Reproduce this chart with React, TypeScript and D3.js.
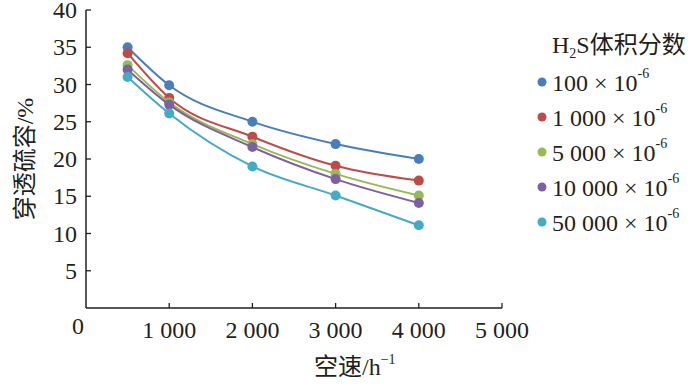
import * as d3 from "d3";

const speeds = [500, 1000, 2000, 3000, 4000];
const seriesNames = ["100", "1 000", "5 000", "10 000", "50 000"];
const seriesColors = ["#4a7ebb", "#be4b48", "#98b954", "#7d60a0", "#46aac5"];
const s100 = [35, 29.9, 25, 22, 20];
const s1000 = [34.2, 28.2, 23, 19.1, 17.1];
const s5000 = [32.6, 27.6, 22, 18, 15.1];
const s10000 = [32, 27.3, 21.6, 17.3, 14.1];
const s50000 = [31, 26.1, 19, 15.1, 11.1];
const allSeries = [s100, s1000, s5000, s10000, s50000];
const xTicks = [1000, 2000, 3000, 4000, 5000];
const yTicks = [5, 10, 15, 20, 25, 30, 35, 40];

const fmt = (v: number) => (v >= 1000 ? `${Math.floor(v / 1000)} ${String(v % 1000).padStart(3, "0")}` : String(v));

export default function App() {
  const width = 700;
  const height = 387;
  const pad = { left: 86, top: 10, right: 198, bottom: 79 };

  const x = d3.scaleLinear().domain([0, 5000]).range([pad.left, width - pad.right]);
  const y = d3.scaleLinear().domain([0, 40]).range([height - pad.bottom, pad.top]);

  const line = d3
    .line<number>()
    .x((_, i) => x(speeds[i]))
    .y((d) => y(d))
    .curve(d3.curveMonotoneX);

  const font = "'Liberation Serif', 'Times New Roman', 'Noto Sans CJK SC', serif";
  const fs = 24;
  const sup = 14;
  const axisColor = "#231f20";

  return (
    <svg
      width={width}
      height={height}
      style={{ position: "absolute", left: 0, top: 0, background: "#fff" }}
      fontFamily={font}
    >
      {/* axes */}
      <line x1={x(0)} y1={y(0)} x2={x(5000)} y2={y(0)} stroke={axisColor} strokeWidth={1.5} />
      <line x1={x(0)} y1={y(0)} x2={x(0)} y2={y(40)} stroke={axisColor} strokeWidth={1.5} />

      {xTicks.map((t) => (
        <g key={t}>
          <line x1={x(t)} y1={y(0)} x2={x(t)} y2={y(0) - 5} stroke={axisColor} strokeWidth={1.3} />
          <text x={x(t)} y={y(0) + 30} fontSize={fs} textAnchor="middle" fill={axisColor}>
            {fmt(t)}
          </text>
        </g>
      ))}
      <text x={x(0) - 2} y={y(0) + 26} fontSize={fs} textAnchor="end" fill={axisColor}>
        0
      </text>

      {yTicks.map((t) => (
        <g key={t}>
          <line x1={x(0)} y1={y(t)} x2={x(0) + 5} y2={y(t)} stroke={axisColor} strokeWidth={1.3} />
          <text x={x(0) - 9} y={y(t) + 8} fontSize={fs} textAnchor="end" fill={axisColor}>
            {t}
          </text>
        </g>
      ))}

      {/* axis titles */}
      <text
        transform={`translate(33, ${(y(0) + y(40)) / 2}) rotate(-90)`}
        fontSize={24}
        textAnchor="middle"
        fill={axisColor}
      >
        穿透硫容/%
      </text>
      <text x={314} y={375} fontSize={24} fill={axisColor}>
        空速/h
        <tspan dy={-11} fontSize={sup}>
          −1
        </tspan>
      </text>

      {/* series */}
      {allSeries.map((s, k) => (
        <g key={k}>
          <path d={line(s) ?? ""} fill="none" stroke={seriesColors[k]} strokeWidth={2} />
          {s.map((v, i) => (
            <circle key={i} cx={x(speeds[i])} cy={y(v)} r={5} fill={seriesColors[k]} />
          ))}
        </g>
      ))}

      {/* legend */}
      <text x={552} y={53} fontSize={fs} fill={axisColor}>
        H<tspan dy={5} fontSize={sup}>2</tspan>
        <tspan dy={-5}>S体积分数</tspan>
      </text>
      {seriesNames.map((n, k) => {
        const ly = 82 + k * 35;
        return (
          <g key={n}>
            <circle cx={542} cy={ly} r={4.5} fill={seriesColors[k]} />
            <text x={552} y={ly + 9} fontSize={fs} fill={axisColor}>
              {n} × 10
              <tspan dy={-13} fontSize={sup}>
                -6
              </tspan>
            </text>
          </g>
        );
      })}
    </svg>
  );
}
